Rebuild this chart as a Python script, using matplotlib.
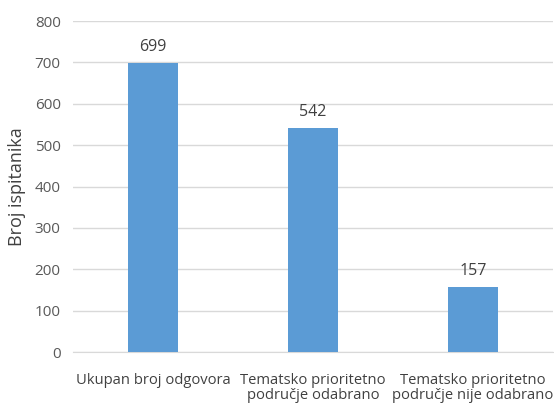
import matplotlib
matplotlib.use("Agg")
import matplotlib.pyplot as plt

categories = ["Ukupan broj odgovora", "Tematsko prioritetno\npodručje odabrano", "Tematsko prioritetno\npodručje nije odabrano"]
values = [699, 542, 157]
yticks = [0, 100, 200, 300, 400, 500, 600, 700, 800]

plt.rcParams['font.family'] = ['Open Sans', 'DejaVu Sans']
fig = plt.figure(figsize=(5.54, 4.08), dpi=100)
ax = fig.add_axes([0.132, 0.137, 0.866, 0.8113])

x = range(len(categories))
ax.bar(x, values, width=0.31, color='#5b9bd5', zorder=3)
for xi, v in zip(x, values):
    ax.text(xi, v + 20, str(v), ha='center', va='bottom', fontsize=11.5, color='#404040')

ax.set_xlim(-0.5, len(categories) - 0.5)
ax.set_ylim(0, 800)
ax.set_yticks(yticks)
ax.set_yticklabels([str(t) for t in yticks], fontsize=11, color='#595959')
ax.set_xticks(list(x))
ax.set_xticklabels(categories, fontsize=10.6, color='#404040', linespacing=1.05)
ax.tick_params(axis='both', length=0, pad=9)
ax.tick_params(axis='x', pad=15)
ax.grid(axis='y', color='#d9d9d9', linewidth=1, zorder=0)
for s in ['top', 'right', 'left']:
    ax.spines[s].set_visible(False)
ax.spines['bottom'].set_color('#d9d9d9')
ax.set_ylabel('Broj ispitanika', fontsize=13, color='#404040', labelpad=6)

fig.savefig('out.png', dpi=100)
